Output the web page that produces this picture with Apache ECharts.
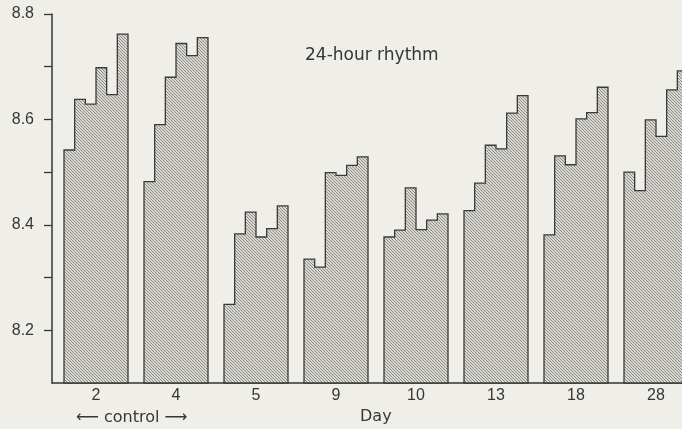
<!DOCTYPE html>
<html>
<head>
<meta charset="utf-8">
<script src="https://cdn.jsdelivr.net/npm/echarts@6/dist/echarts.min.js"></script>
<style>
html,body{margin:0;padding:0;background:#efeee9;}
#c{width:682px;height:429px;}
</style>
</head>
<body>
<div id="c"></div>
<script>
// ---- data ----
const days = ['2', '4', '5', '9', '10', '13', '18', '28'];
const day2  = [8.542, 8.638, 8.629, 8.698, 8.647, 8.762];
const day4  = [8.482, 8.590, 8.680, 8.744, 8.721, 8.755];
const day5  = [8.249, 8.383, 8.424, 8.377, 8.393, 8.436];
const day9  = [8.335, 8.320, 8.499, 8.494, 8.513, 8.529];
const day10 = [8.377, 8.390, 8.470, 8.391, 8.409, 8.421];
const day13 = [8.427, 8.479, 8.551, 8.544, 8.612, 8.645];
const day18 = [8.381, 8.531, 8.514, 8.601, 8.613, 8.661];
const day28 = [8.500, 8.465, 8.599, 8.568, 8.656, 8.692];
const yTickLabels = [8.2, 8.4, 8.6, 8.8];
const yMinorTicks = [8.2, 8.3, 8.4, 8.5, 8.6, 8.7, 8.8];
const groups = [day2, day4, day5, day9, day10, day13, day18, day28];

// ---- hatch pattern ----
const pc = document.createElement('canvas');
pc.width = 3; pc.height = 3;
const pctx = pc.getContext('2d');
pctx.fillStyle = '#d9d8d2';
pctx.fillRect(0, 0, 3, 3);
pctx.fillStyle = '#8c8b85';
for (let i = 0; i < 3; i++) pctx.fillRect(i, i, 1, 1);

const baseVal = 8.1;
const data = groups.map((g, i) => [i].concat(g));

function renderItem(params, api) {
  const gi = api.value(0);
  const n = 6, w = 0.8, left = gi - w / 2, step = w / n;
  const pts = [];
  pts.push(api.coord([left, baseVal]));
  for (let j = 0; j < n; j++) {
    const v = api.value(j + 1);
    pts.push(api.coord([left + j * step, v]));
    pts.push(api.coord([left + (j + 1) * step, v]));
  }
  pts.push(api.coord([left + w, baseVal]));
  return {
    type: 'polygon',
    shape: { points: pts },
    style: { fill: { image: pc, repeat: 'repeat' }, stroke: '#3a3a38', lineWidth: 1.3 }
  };
}

const chart = echarts.init(document.getElementById('c'));
const font = '"DejaVu Sans", sans-serif';
const numFont = '"Liberation Sans", sans-serif';
const ink = '#363634';
chart.setOption({
  backgroundColor: '#efeee9',
  animation: false,
  grid: { left: 52, right: 0, top: 14, bottom: 46 },
  xAxis: {
    type: 'value', min: -0.55, max: 7.325,
    splitLine: { show: false },
    axisLine: { onZero: false, lineStyle: { color: ink, width: 1.5 } },
    axisTick: { show: false },
    axisLabel: {
      customValues: [0, 1, 2, 3, 4, 5, 6, 7],
      formatter: v => days[Math.round(v)],
      color: ink, fontSize: 16, fontFamily: numFont, margin: 5
    }
  },
  yAxis: {
    type: 'value', min: baseVal, max: 8.8,
    splitLine: { show: false },
    axisLine: { show: true, onZero: false, lineStyle: { color: ink, width: 1.5 } },
    axisTick: { show: true, customValues: yMinorTicks, length: 8, lineStyle: { color: ink, width: 1.3 } },
    axisLabel: {
      customValues: yTickLabels,
      formatter: v => v.toFixed(1),
      color: ink, fontSize: 16, fontFamily: numFont, margin: 18
    }
  },
  series: [{
    type: 'custom',
    renderItem: renderItem,
    data: data,
    encode: { x: 0, y: [1, 2, 3, 4, 5, 6] },
    clip: false
  }],
  graphic: [
    { type: 'text', left: 305, top: 47, style: { text: '24-hour rhythm', fontSize: 17, fontFamily: font, fill: ink } },
    { type: 'text', left: 360, top: 409, style: { text: 'Day', fontSize: 16, fontFamily: font, fill: ink } },
    { type: 'text', left: 76, top: 410, style: { text: '\u27f5 control \u27f6', fontSize: 16, fontFamily: font, fill: ink } }
  ]
});
</script>
</body>
</html>
